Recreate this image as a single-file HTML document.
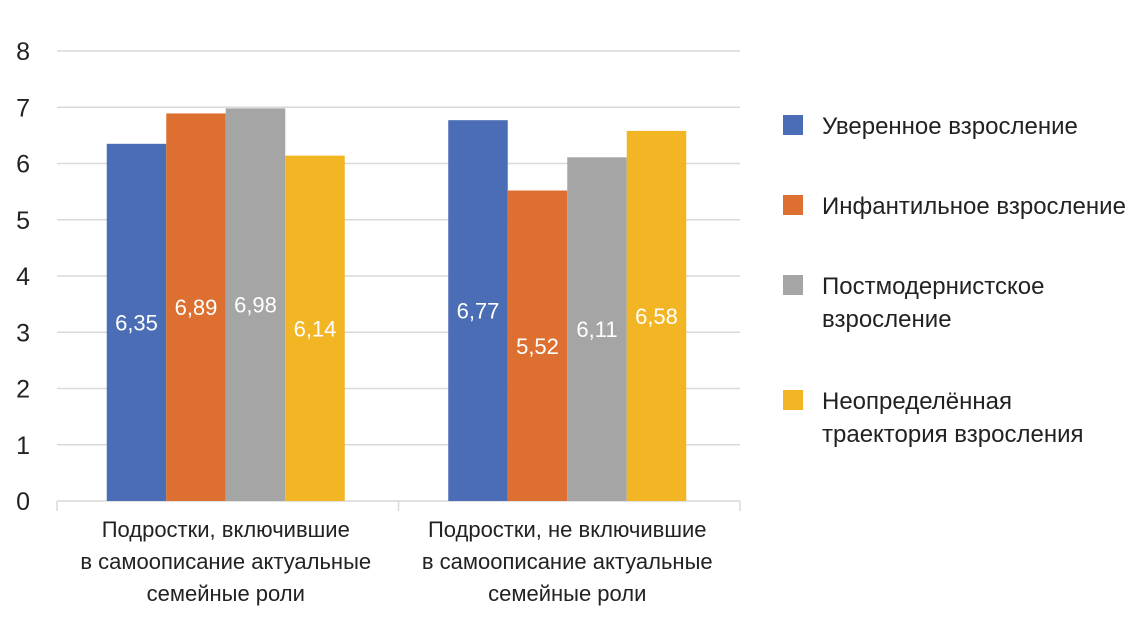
<!DOCTYPE html>
<html><head><meta charset="utf-8"><style>
body{margin:0;background:#fff;}
svg text{font-family:"Liberation Sans Narrow","Liberation Sans",sans-serif;}
</style></head><body>
<svg id="chart" width="1139" height="622"></svg>
<script>
const categories=[["Подростки, включившие","в самоописание актуальные","семейные роли"],["Подростки, не включившие","в самоописание актуальные","семейные роли"]];
const seriesNames=[["Уверенное взросление"],["Инфантильное взросление"],["Постмодернистское","взросление"],["Неопределённая","траектория взросления"]];
const colors=["#4a6db5","#dd7030","#a5a5a5","#f2b624"];
const s1=[6.35,6.77];
const s2=[6.89,5.52];
const s3=[6.98,6.11];
const s4=[6.14,6.58];
const series=[s1,s2,s3,s4];
const yTicks=[0,1,2,3,4,5,6,7,8];
const NS="http://www.w3.org/2000/svg";
const svg=document.getElementById('chart');
const x0=57,x1=740,yB=501,yT=51,ymax=8;
const y=v=>yB-(v/ymax)*(yB-yT);
const catW=(x1-x0)/categories.length;
const barW=59.5;
function mk(t,a,p){const e=document.createElementNS(NS,t);for(const k in a)e.setAttribute(k,a[k]);(p||svg).appendChild(e);return e;}
yTicks.forEach(t=>{
 const g=mk('line',{x1:x0,x2:x1,y1:y(t),y2:y(t),stroke:'#d9d9d9','stroke-width':1.5});
 
 
 const l=mk('text',{x:30,y:y(t)+9,'text-anchor':'end','font-size':25,fill:'#222'});
 l.textContent=t;
 
 
});
for(let i=0;i<=categories.length;i++){
 const tk=mk('line',{x1:x0+i*catW,x2:x0+i*catW,y1:yB,y2:yB+10,stroke:'#d9d9d9','stroke-width':1.5});
 
 
}
categories.forEach((c,ci)=>{
 const cx=x0+catW*(ci+0.5)-2;
 series.forEach((s,si)=>{
  const bx=cx-2*barW+si*barW;
  const r=mk('rect',{x:bx,y:y(s[ci]),width:barW,height:yB-y(s[ci]),fill:colors[si]});
  
  
  const t=mk('text',{x:bx+barW/2,y:(y(s[ci])+yB)/2+8,'text-anchor':'middle','font-size':22,fill:'#fff'});
  t.textContent=s[ci].toFixed(2).replace('.',',');
  
  
 });
 c.forEach((line,li)=>{
  const t=mk('text',{x:cx,y:537+li*32,'text-anchor':'middle','font-size':22,fill:'#222'});
  t.textContent=line;
  
  
 });
});
const legY=[125,205,285,400];
seriesNames.forEach((n,i)=>{
 const r=mk('rect',{x:783,y:legY[i]-10,width:20,height:20,fill:colors[i]});
 
 
 n.forEach((line,li)=>{
  const t=mk('text',{x:822,y:legY[i]+9+li*33,'font-size':24,fill:'#222'});
  t.textContent=line;
  
  
 });
});
</script>
</body></html>
